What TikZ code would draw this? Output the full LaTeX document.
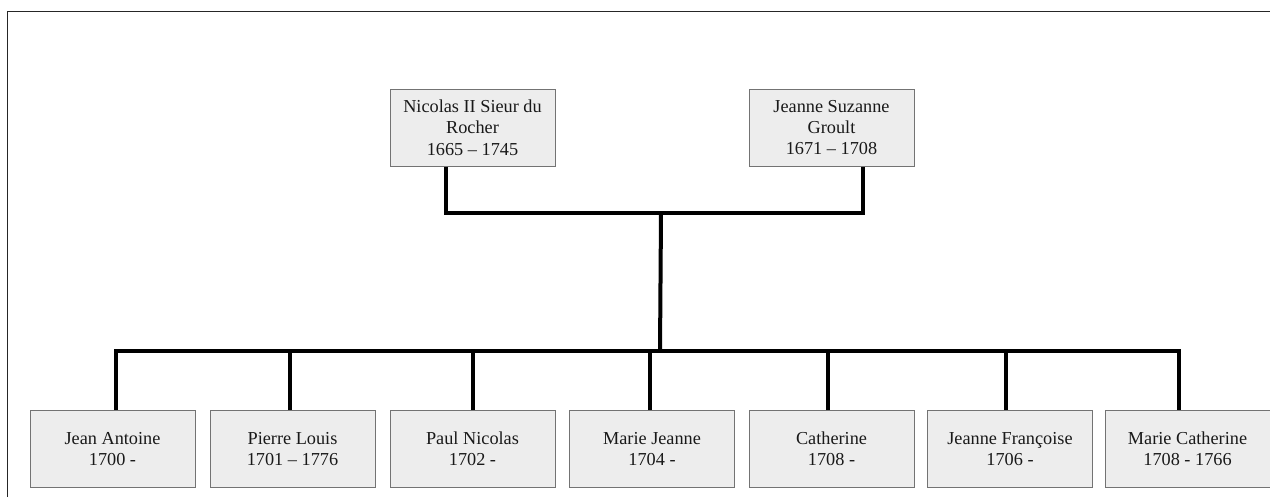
\documentclass[tikz,border=0pt]{standalone}
\usepackage{fontspec}
\setmainfont{Liberation Serif}
\usepackage{tikz}
\usetikzlibrary{positioning,calc}

\begin{document}
\begin{tikzpicture}[x=0.75pt,y=-0.75pt,
  person/.style={draw=black!55, fill=black!7, line width=0.75pt,
                 minimum width=123.75pt, minimum height=57.75pt,
                 inner sep=0pt, align=center, text=black!90,
                 font=\fontsize{13.7}{16}\selectfont},
  link/.style={line width=3pt}]
  \useasboundingbox (0,0) rectangle (1270,497);

  % page frame
  \draw[line width=1.1pt,black!85] (7.5,497) -- (7.5,11.5) -- (1270,11.5);

  % parents
  \node[person](p1) at (472.5,127.5) {Nicolas II Sieur du\\Rocher\\1665 – 1745};
  \node[person](p2) at (831.5,127.5) {Jeanne Suzanne\\Groult\\1671 – 1708};

  % children
  \node[person](c1) at (112.5,449) {Jean Antoine\\1700 -};
  \node[person](c2) at (292.5,449) {Pierre Louis\\1701 – 1776};
  \node[person](c3) at (472.5,449) {Paul Nicolas\\1702 -};
  \node[person](c4) at (652,449)   {Marie Jeanne\\1704 -};
  \node[person](c5) at (831.5,449) {Catherine\\1708 -};
  \node[person](c6) at (1010,449)  {Jeanne Françoise\\1706 -};
  \node[person](c7) at (1187.5,449) {Marie Catherine\\1708 - 1766};

  \coordinate (wed) at (661,213);
  \coordinate (kids) at (660,351);

  \draw[link] ([xshift=-19.9pt]p1.south) |- (wed) -| ([xshift=23.6pt]p2.south);
  \draw[link] (wed) -- (kids);

  \draw[link] ([xshift=2.6pt]c1.north) |- (kids) -| ([xshift=-6.4pt]c7.north);
  \foreach \c/\dx in {c2/-1.9,c3/0,c4/-1.5,c5/-2.6,c6/-3}
    \draw[link] ([xshift=\dx pt]\c.north) -- ([xshift=\dx pt]\c.north |- kids);

\end{tikzpicture}
\end{document}
